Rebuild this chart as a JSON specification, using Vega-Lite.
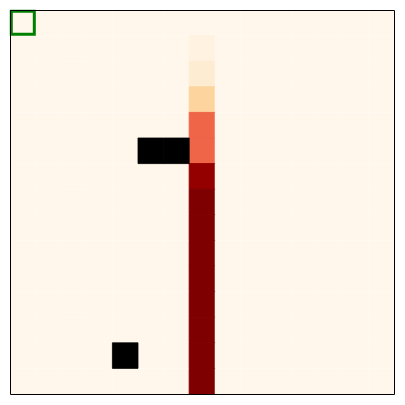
{
  "$schema": "https://vega.github.io/schema/vega-lite/v6.json",
  "width": 384,
  "height": 384,
  "autosize": "none",
  "padding": {"left": 10, "top": 10, "right": 11, "bottom": 11},
  "background": "white",
  "config": {"view": {"stroke": "black", "strokeWidth": 1}, "group": {"strokeForeground": true}},
  "datasets": {
    "grid": [
      {"r":0,"c":0,"v":0},{"r":0,"c":1,"v":0},{"r":0,"c":2,"v":0},{"r":0,"c":3,"v":0},{"r":0,"c":4,"v":0},{"r":0,"c":5,"v":0},{"r":0,"c":6,"v":0},{"r":0,"c":7,"v":0},{"r":0,"c":8,"v":0},{"r":0,"c":9,"v":0},{"r":0,"c":10,"v":0},{"r":0,"c":11,"v":0},{"r":0,"c":12,"v":0},{"r":0,"c":13,"v":0},{"r":0,"c":14,"v":0},
      {"r":1,"c":0,"v":0},{"r":1,"c":1,"v":0},{"r":1,"c":2,"v":0},{"r":1,"c":3,"v":0},{"r":1,"c":4,"v":0},{"r":1,"c":5,"v":0},{"r":1,"c":6,"v":0},{"r":1,"c":7,"v":0.04},{"r":1,"c":8,"v":0},{"r":1,"c":9,"v":0},{"r":1,"c":10,"v":0},{"r":1,"c":11,"v":0},{"r":1,"c":12,"v":0},{"r":1,"c":13,"v":0},{"r":1,"c":14,"v":0},
      {"r":2,"c":0,"v":0},{"r":2,"c":1,"v":0},{"r":2,"c":2,"v":0},{"r":2,"c":3,"v":0},{"r":2,"c":4,"v":0},{"r":2,"c":5,"v":0},{"r":2,"c":6,"v":0},{"r":2,"c":7,"v":0.09},{"r":2,"c":8,"v":0},{"r":2,"c":9,"v":0},{"r":2,"c":10,"v":0},{"r":2,"c":11,"v":0},{"r":2,"c":12,"v":0},{"r":2,"c":13,"v":0},{"r":2,"c":14,"v":0},
      {"r":3,"c":0,"v":0},{"r":3,"c":1,"v":0},{"r":3,"c":2,"v":0},{"r":3,"c":3,"v":0},{"r":3,"c":4,"v":0},{"r":3,"c":5,"v":0},{"r":3,"c":6,"v":0},{"r":3,"c":7,"v":0.25},{"r":3,"c":8,"v":0},{"r":3,"c":9,"v":0},{"r":3,"c":10,"v":0},{"r":3,"c":11,"v":0},{"r":3,"c":12,"v":0},{"r":3,"c":13,"v":0},{"r":3,"c":14,"v":0},
      {"r":4,"c":0,"v":0},{"r":4,"c":1,"v":0},{"r":4,"c":2,"v":0},{"r":4,"c":3,"v":0},{"r":4,"c":4,"v":0},{"r":4,"c":5,"v":0},{"r":4,"c":6,"v":0},{"r":4,"c":7,"v":0.625},{"r":4,"c":8,"v":0},{"r":4,"c":9,"v":0},{"r":4,"c":10,"v":0},{"r":4,"c":11,"v":0},{"r":4,"c":12,"v":0},{"r":4,"c":13,"v":0},{"r":4,"c":14,"v":0},
      {"r":5,"c":0,"v":0},{"r":5,"c":1,"v":0},{"r":5,"c":2,"v":0},{"r":5,"c":3,"v":0},{"r":5,"c":4,"v":0},{"r":5,"c":5,"v":0},{"r":5,"c":6,"v":0},{"r":5,"c":7,"v":0.625},{"r":5,"c":8,"v":0},{"r":5,"c":9,"v":0},{"r":5,"c":10,"v":0},{"r":5,"c":11,"v":0},{"r":5,"c":12,"v":0},{"r":5,"c":13,"v":0},{"r":5,"c":14,"v":0},
      {"r":6,"c":0,"v":0},{"r":6,"c":1,"v":0},{"r":6,"c":2,"v":0},{"r":6,"c":3,"v":0},{"r":6,"c":4,"v":0},{"r":6,"c":5,"v":0},{"r":6,"c":6,"v":0},{"r":6,"c":7,"v":0.95},{"r":6,"c":8,"v":0},{"r":6,"c":9,"v":0},{"r":6,"c":10,"v":0},{"r":6,"c":11,"v":0},{"r":6,"c":12,"v":0},{"r":6,"c":13,"v":0},{"r":6,"c":14,"v":0},
      {"r":7,"c":0,"v":0},{"r":7,"c":1,"v":0},{"r":7,"c":2,"v":0},{"r":7,"c":3,"v":0},{"r":7,"c":4,"v":0},{"r":7,"c":5,"v":0},{"r":7,"c":6,"v":0},{"r":7,"c":7,"v":1},{"r":7,"c":8,"v":0},{"r":7,"c":9,"v":0},{"r":7,"c":10,"v":0},{"r":7,"c":11,"v":0},{"r":7,"c":12,"v":0},{"r":7,"c":13,"v":0},{"r":7,"c":14,"v":0},
      {"r":8,"c":0,"v":0},{"r":8,"c":1,"v":0},{"r":8,"c":2,"v":0},{"r":8,"c":3,"v":0},{"r":8,"c":4,"v":0},{"r":8,"c":5,"v":0},{"r":8,"c":6,"v":0},{"r":8,"c":7,"v":1},{"r":8,"c":8,"v":0},{"r":8,"c":9,"v":0},{"r":8,"c":10,"v":0},{"r":8,"c":11,"v":0},{"r":8,"c":12,"v":0},{"r":8,"c":13,"v":0},{"r":8,"c":14,"v":0},
      {"r":9,"c":0,"v":0},{"r":9,"c":1,"v":0},{"r":9,"c":2,"v":0},{"r":9,"c":3,"v":0},{"r":9,"c":4,"v":0},{"r":9,"c":5,"v":0},{"r":9,"c":6,"v":0},{"r":9,"c":7,"v":1},{"r":9,"c":8,"v":0},{"r":9,"c":9,"v":0},{"r":9,"c":10,"v":0},{"r":9,"c":11,"v":0},{"r":9,"c":12,"v":0},{"r":9,"c":13,"v":0},{"r":9,"c":14,"v":0},
      {"r":10,"c":0,"v":0},{"r":10,"c":1,"v":0},{"r":10,"c":2,"v":0},{"r":10,"c":3,"v":0},{"r":10,"c":4,"v":0},{"r":10,"c":5,"v":0},{"r":10,"c":6,"v":0},{"r":10,"c":7,"v":1},{"r":10,"c":8,"v":0},{"r":10,"c":9,"v":0},{"r":10,"c":10,"v":0},{"r":10,"c":11,"v":0},{"r":10,"c":12,"v":0},{"r":10,"c":13,"v":0},{"r":10,"c":14,"v":0},
      {"r":11,"c":0,"v":0},{"r":11,"c":1,"v":0},{"r":11,"c":2,"v":0},{"r":11,"c":3,"v":0},{"r":11,"c":4,"v":0},{"r":11,"c":5,"v":0},{"r":11,"c":6,"v":0},{"r":11,"c":7,"v":1},{"r":11,"c":8,"v":0},{"r":11,"c":9,"v":0},{"r":11,"c":10,"v":0},{"r":11,"c":11,"v":0},{"r":11,"c":12,"v":0},{"r":11,"c":13,"v":0},{"r":11,"c":14,"v":0},
      {"r":12,"c":0,"v":0},{"r":12,"c":1,"v":0},{"r":12,"c":2,"v":0},{"r":12,"c":3,"v":0},{"r":12,"c":4,"v":0},{"r":12,"c":5,"v":0},{"r":12,"c":6,"v":0},{"r":12,"c":7,"v":1},{"r":12,"c":8,"v":0},{"r":12,"c":9,"v":0},{"r":12,"c":10,"v":0},{"r":12,"c":11,"v":0},{"r":12,"c":12,"v":0},{"r":12,"c":13,"v":0},{"r":12,"c":14,"v":0},
      {"r":13,"c":0,"v":0},{"r":13,"c":1,"v":0},{"r":13,"c":2,"v":0},{"r":13,"c":3,"v":0},{"r":13,"c":4,"v":0},{"r":13,"c":5,"v":0},{"r":13,"c":6,"v":0},{"r":13,"c":7,"v":1},{"r":13,"c":8,"v":0},{"r":13,"c":9,"v":0},{"r":13,"c":10,"v":0},{"r":13,"c":11,"v":0},{"r":13,"c":12,"v":0},{"r":13,"c":13,"v":0},{"r":13,"c":14,"v":0},
      {"r":14,"c":0,"v":0},{"r":14,"c":1,"v":0},{"r":14,"c":2,"v":0},{"r":14,"c":3,"v":0},{"r":14,"c":4,"v":0},{"r":14,"c":5,"v":0},{"r":14,"c":6,"v":0},{"r":14,"c":7,"v":1},{"r":14,"c":8,"v":0},{"r":14,"c":9,"v":0},{"r":14,"c":10,"v":0},{"r":14,"c":11,"v":0},{"r":14,"c":12,"v":0},{"r":14,"c":13,"v":0},{"r":14,"c":14,"v":0}
    ],
    "walls": [{"r":5,"c":5},{"r":5,"c":6},{"r":13,"c":4}],
    "start": [{"r":0,"c":0}]
  },
  "encoding": {
    "x": {"field": "c", "type": "ordinal", "scale": {"domain": [0,1,2,3,4,5,6,7,8,9,10,11,12,13,14], "paddingInner": 0, "paddingOuter": 0}, "axis": null},
    "y": {"field": "r", "type": "ordinal", "scale": {"domain": [0,1,2,3,4,5,6,7,8,9,10,11,12,13,14], "paddingInner": 0, "paddingOuter": 0}, "axis": null}
  },
  "layer": [
    {
      "data": {"name": "grid"},
      "mark": {"type": "rect", "clip": true},
      "encoding": {
        "fill": {"field": "v", "type": "quantitative", "legend": null,
          "scale": {"type": "linear", "interpolate": "rgb",
            "domain": [0, 0.125, 0.25, 0.375, 0.5, 0.625, 0.75, 0.875, 1],
            "range": ["#fff7ec", "#fee8c8", "#fdd49e", "#fdbb84", "#fc8d59", "#ef6548", "#d7301f", "#b30000", "#7f0000"]}},
        "stroke": {"field": "v", "type": "quantitative", "legend": null,
          "scale": {"type": "linear", "interpolate": "rgb",
            "domain": [0, 0.125, 0.25, 0.375, 0.5, 0.625, 0.75, 0.875, 1],
            "range": ["#fff7ec", "#fee8c8", "#fdd49e", "#fdbb84", "#fc8d59", "#ef6548", "#d7301f", "#b30000", "#7f0000"]}},
        "strokeWidth": {"condition": {"test": "datum.v > 0", "value": 1}, "value": 0}
      }
    },
    {
      "data": {"name": "walls"},
      "mark": {"type": "rect", "fill": "black", "stroke": "black", "strokeWidth": 0.8}
    },
    {
      "data": {"name": "start"},
      "mark": {"type": "rect", "fill": null, "stroke": "green", "strokeWidth": 3, "width": {"band": 0.9}, "height": {"band": 0.9}}
    }
  ]
}
